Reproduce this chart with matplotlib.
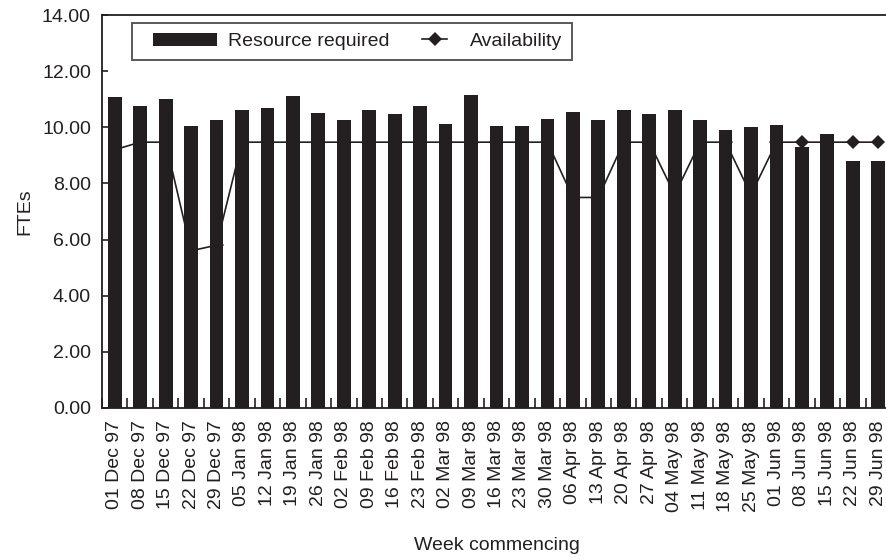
import matplotlib
matplotlib.use("Agg")
import matplotlib.pyplot as plt
import numpy as np
from matplotlib.ticker import FormatStrFormatter, FixedLocator
from matplotlib.legend_handler import HandlerLine2D, HandlerPatch

plt.rcParams['font.family'] = ['Liberation Sans', 'DejaVu Sans']

# Week commencing labels
weeks = ["01 Dec 97", "08 Dec 97", "15 Dec 97", "22 Dec 97", "29 Dec 97",
         "05 Jan 98", "12 Jan 98", "19 Jan 98", "26 Jan 98", "02 Feb 98",
         "09 Feb 98", "16 Feb 98", "23 Feb 98", "02 Mar 98", "09 Mar 98",
         "16 Mar 98", "23 Mar 98", "30 Mar 98", "06 Apr 98", "13 Apr 98",
         "20 Apr 98", "27 Apr 98", "04 May 98", "11 May 98", "18 May 98",
         "25 May 98", "01 Jun 98", "08 Jun 98", "15 Jun 98", "22 Jun 98",
         "29 Jun 98"]

# FTEs required per week (bars)
required = [11.07, 10.75, 11.0, 10.05, 10.25, 10.62, 10.70, 11.1, 10.51, 10.25,
            10.61, 10.46, 10.76, 10.1, 11.15, 10.05, 10.05, 10.3, 10.55, 10.25,
            10.63, 10.49, 10.63, 10.25, 9.92, 10.01, 10.07, 9.3, 9.76, 8.8,
            8.8]

# FTEs available per week (line)
availability = [9.2, 9.47, 9.47, 5.6, 5.8, 9.47, 9.47, 9.47, 9.47, 9.47,
                9.47, 9.47, 9.47, 9.47, 9.47, 9.47, 9.47, 9.47, 7.5, 7.5,
                9.47, 9.47, 7.6, 9.47, 9.47, 7.6, 9.47, 9.47, 9.47, 9.47,
                9.47]

dark = "#231f20"
fs = 14


class ShortLine(HandlerLine2D):
    """Short line handle placed near its text."""
    def create_artists(self, legend, orig_handle, xdescent, ydescent,
                       width, height, fontsize, trans):
        return super().create_artists(legend, orig_handle,
                                      xdescent - 0.5 * width, ydescent,
                                      0.33 * width, height, fontsize, trans)


class OffsetPatch(HandlerPatch):
    """Bar handle pushed a bit to the right."""
    def create_artists(self, legend, orig_handle, xdescent, ydescent,
                       width, height, fontsize, trans):
        return super().create_artists(legend, orig_handle,
                                      xdescent - 0.145 * width, ydescent,
                                      0.845 * width, height, fontsize, trans)


fig = plt.figure(figsize=(8.87, 5.6), dpi=100)
ax = fig.add_axes([102 / 887, 1 - 408 / 560, 789 / 887, 393 / 560])

x = np.arange(len(weeks))
# line sits behind the bars
line, = ax.plot(x, availability, color=dark, lw=1.2, marker="D",
                markersize=7, markeredgewidth=0, zorder=1,
                label="Availability")
bars = ax.bar(x, required, width=0.54, color=dark, zorder=3,
              label="Resource required")

ax.set_xlim(-0.5, len(weeks) - 0.5)
ax.set_ylim(0, 14)
ax.set_yticks(np.arange(0, 15, 2))
ax.yaxis.set_major_formatter(FormatStrFormatter("%.2f"))

ax.set_xticks(x)
ax.set_xticklabels(weeks, rotation=90)
ax.xaxis.set_minor_locator(FixedLocator(np.arange(-0.5, len(weeks), 1.0)))
ax.tick_params(axis="x", which="major", length=0, pad=9, labelsize=fs,
               colors=dark)
ax.tick_params(axis="x", which="minor", direction="in", length=7, width=1.2,
               color=dark)
ax.tick_params(axis="y", direction="in", length=4, width=1.2, pad=8,
               labelsize=fs, colors=dark)

for side in ["top", "left", "bottom"]:
    ax.spines[side].set_linewidth(1.3)
    ax.spines[side].set_color(dark)
    ax.spines[side].set_zorder(4)
ax.spines["right"].set_visible(False)

ax.set_xlabel("Week commencing", fontsize=fs, color=dark, labelpad=18)
ax.set_ylabel("FTEs", fontsize=fs, color=dark, labelpad=6)

bar_handle = bars.patches[0]
leg = ax.legend([bar_handle, line], ["Resource required", "Availability"],
                loc="upper left", bbox_to_anchor=(0.038, 0.98), ncol=2,
                fontsize=fs, frameon=True, fancybox=False, handlelength=3.9,
                handleheight=0.7, columnspacing=-0.25, borderpad=0.5,
                handletextpad=0.52, borderaxespad=0,
                handler_map={line: ShortLine(), bar_handle: OffsetPatch()})
leg.get_frame().set_edgecolor(dark)
leg.get_frame().set_linewidth(1.3)
leg.set_zorder(5)
for t in leg.get_texts():
    t.set_color(dark)

fig.savefig("out.png", dpi=100)
